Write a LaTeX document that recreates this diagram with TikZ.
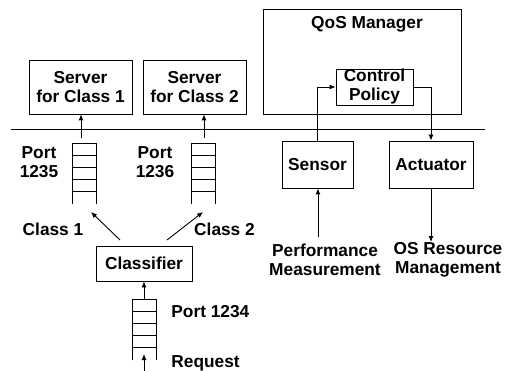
\documentclass[tikz,border=0pt]{standalone}
\usepackage{fontspec}
\setmainfont{Liberation Sans}
\usetikzlibrary{arrows.meta}
\tikzset{
  box/.style={draw,rectangle,inner sep=0pt,align=center},
  lbl/.style={inner sep=0pt,align=center},
  flow/.style={-{Latex[length=6pt,width=5pt]}},
}
\begin{document}
\begin{tikzpicture}[x=1pt,y=-1pt,line width=0.9pt,
    font=\fontsize{17.3}{19}\selectfont\bfseries]
    \useasboundingbox (0,0) rectangle (508,371);
    %% Divider
    \coordinate (divl) at (11,129);
    \coordinate (divr) at (485,129);
    \draw (divl) -- (divr);
    %% Servers
    \node[box,minimum width=103pt,minimum height=54pt] (server1) at (80.5,87) {Server\\for Class 1};
    \node[box,minimum width=103pt,minimum height=54pt] (server2) at (194.5,87) {Server\\for Class 2};
    %% QoS manager
    \node[box,minimum width=198pt,minimum height=105pt] (qos) at (362,61.5) {};
    \node[lbl] (qoslabel) at (367,24) {QoS Manager};
    \node[box,minimum width=77pt,minimum height=36pt] (policy) at (374.5,87) {Control\\Policy};
    \node[box,minimum width=71pt,minimum height=47pt] (sensor) at (317.5,164.5) {Sensor};
    \node[box,minimum width=84pt,minimum height=47pt] (actuator) at (431,164.5) {Actuator};
    %% Classifier
    \node[box,minimum width=96pt,minimum height=35pt] (classifier) at (144,263.5) {Classifier};
    %% Queues
    \foreach \qx/\qy/\qname in {72/143/port1, 191/143/port2, 132/299/port3} {
        \draw (\qx,\qy+61) -- (\qx,\qy) -- (\qx+24,\qy) -- (\qx+24,\qy+61);
        \foreach \r in {1,...,4}
            \draw (\qx,\qy+12*\r) -- (\qx+24,\qy+12*\r);
        \coordinate (\qname) at (\qx+12,\qy);
    }
    %% Labels
    \node[lbl] (port1lbl) at (39,162) {Port\\1235};
    \node[lbl] (port2lbl) at (155,162) {Port\\1236};
    \node[lbl,anchor=west] (port3lbl) at (171,312) {Port 1234};
    \node[lbl,anchor=west] (reqlbl) at (171,363) {Request};
    \node[lbl] (class1lbl) at (53,229) {Class 1};
    \node[lbl] (class2lbl) at (224.5,229) {Class 2};
    \node[lbl] (perflbl) at (325,259.5) {Performance\\Measurement};
    \node[lbl] (oslbl) at (448,259.5) {OS Resource\\Management};
    %% Arrows
    \coordinate (q1out) at (81,138);
    \coordinate (q2out) at (204,138);
    \draw[flow] (q1out) -- (q1out |- server1.south);
    \draw[flow] (q2out) -- (q2out |- server2.south);
    \coordinate (c1from) at (120,240);
    \coordinate (c1to) at (91,212);
    \coordinate (c2from) at (167,240);
    \coordinate (c2to) at (203,212);
    \draw[flow] (c1from) -- (c1to);
    \draw[flow] (c2from) -- (c2to);
    \draw[flow] (port3) -- (classifier.south);
    \coordinate (reqin) at (144,371);
    \coordinate (reqtip) at (144,354);
    \draw[flow] (reqin) -- (reqtip);
    \coordinate (perfin) at (318,237);
    \draw[flow] (perfin) -- (perfin |- sensor.south);
    \draw[flow] (sensor.north) |- (policy.west);
    \draw[flow] (policy.east) -| (actuator.north);
    \coordinate (osout) at (431,242);
    \draw[flow] (actuator.south) -- (osout);
\end{tikzpicture}
\end{document}
